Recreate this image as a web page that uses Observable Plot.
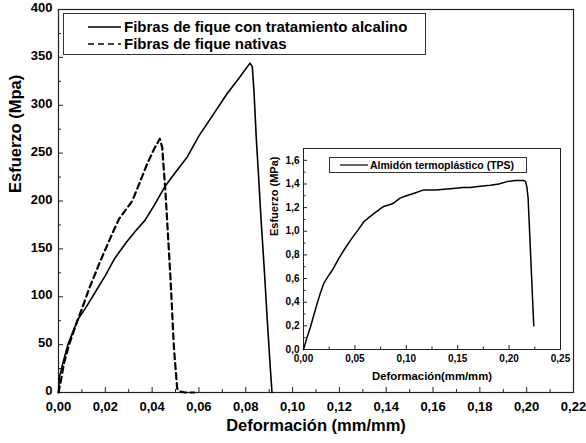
<!DOCTYPE html>
<html>
<head>
<meta charset="utf-8">
<script src="https://cdn.jsdelivr.net/npm/d3@7"></script>
<script src="https://cdn.jsdelivr.net/npm/@observablehq/plot@0.6"></script>
<style>
  html, body { margin: 0; padding: 0; background: #fff; }
  #wrap { position: relative; width: 586px; height: 443px; font-family: "Liberation Sans", Arial, sans-serif; font-weight: bold; color: #000; }
  #wrap svg { display: block; }
  #inset { position: absolute; left: 255px; top: 140px; }
  .legend { position: absolute; border: 1px solid #333; background: #fff; box-sizing: border-box; }
  .row { position: absolute; white-space: nowrap; display: flex; align-items: center; }
</style>
</head>
<body>
<div id="wrap"></div>
<script>
// ---- Data ----
const treatedX = [0, 0.0003, 0.002, 0.004, 0.008, 0.012, 0.016, 0.020, 0.024, 0.029, 0.033, 0.037, 0.041, 0.0457, 0.050, 0.055, 0.060, 0.066, 0.072, 0.077, 0.0818, 0.0828, 0.0835, 0.0845, 0.0855, 0.0865, 0.0880, 0.0892, 0.0905, 0.0912];
const treatedY = [0, 15, 32, 50, 75, 90, 106, 122, 140, 157, 169, 180, 196, 216, 230, 246, 268, 290, 312, 328, 344, 340, 315, 265, 225, 182, 125, 75, 25, 0];

const nativeX = [0, 0.001, 0.0023, 0.0044, 0.0065, 0.0087, 0.011, 0.013, 0.0155, 0.018, 0.0205, 0.023, 0.0258, 0.0285, 0.0315, 0.0345, 0.0379, 0.041, 0.0433, 0.0443, 0.0457, 0.0464, 0.0479, 0.0493, 0.0507, 0.052, 0.054, 0.058];
const nativeY = [0, 12, 30, 49, 64, 79, 94, 108, 123, 138, 152, 166, 181, 190, 200, 218, 239, 255, 265, 256, 209, 180, 117, 47, 4, 1, 0, 0];

const tpsX = [0, 0.003, 0.0068, 0.010, 0.0133, 0.0165, 0.0198, 0.024, 0.028, 0.0344, 0.040, 0.047, 0.053, 0.0587, 0.064, 0.070, 0.078, 0.086, 0.094, 0.100, 0.107, 0.117, 0.128, 0.143, 0.155, 0.162, 0.172, 0.182, 0.190, 0.198, 0.206, 0.214, 0.216, 0.2172, 0.2185, 0.224];
const tpsY = [0, 0.09, 0.19, 0.29, 0.39, 0.48, 0.56, 0.62, 0.67, 0.77, 0.85, 0.94, 1.01, 1.08, 1.12, 1.16, 1.21, 1.23, 1.28, 1.30, 1.32, 1.35, 1.35, 1.36, 1.37, 1.37, 1.38, 1.39, 1.40, 1.42, 1.43, 1.43, 1.42, 1.38, 1.28, 0.20];

const mainXTicks = [0, 0.02, 0.04, 0.06, 0.08, 0.10, 0.12, 0.14, 0.16, 0.18, 0.20, 0.22];
const mainXMinor = [0.01, 0.03, 0.05, 0.07, 0.09, 0.11, 0.13, 0.15, 0.17, 0.19, 0.21];
const mainYTicks = [0, 50, 100, 150, 200, 250, 300, 350, 400];
const mainYMinor = [25, 75, 125, 175, 225, 275, 325, 375];
const insetXTicks = [0, 0.05, 0.10, 0.15, 0.20, 0.25];
const insetXMinor = [0.025, 0.075, 0.125, 0.175, 0.225];
const insetYTicks = [0, 0.2, 0.4, 0.6, 0.8, 1.0, 1.2, 1.4, 1.6];
const insetYMinor = [0.1, 0.3, 0.5, 0.7, 0.9, 1.1, 1.3, 1.5];

const seriesNames = ["Fibras de fique con tratamiento alcalino", "Fibras de fique nativas"];
const insetName = "Almidón termoplástico (TPS)";
const mainXLabel = "Deformación (mm/mm)";
const mainYLabel = "Esfuerzo (Mpa)";
const insetXLabel = "Deformación(mm/mm)";
const insetYLabel = "Esfuerzo (MPa)";

// ---- Build ----
const treated = treatedX.map((x, i) => ({x, y: treatedY[i]}));
const native = nativeX.map((x, i) => ({x, y: nativeY[i]}));
const tps = tpsX.map((x, i) => ({x, y: tpsY[i]}));

const fmt2 = d => d.toFixed(2).replace(".", ",");
const fmt1 = d => d.toFixed(1).replace(".", ",");
const fontFamily = '"Liberation Sans", Arial, sans-serif';

const main = Plot.plot({
  width: 586, height: 443,
  marginLeft: 58, marginRight: 13, marginTop: 9, marginBottom: 51,
  x: {domain: [0, 0.22]},
  y: {domain: [0, 400]},
  style: {fontFamily, fontWeight: "bold", fontSize: "13px", color: "#000", background: "transparent", overflow: "visible"},
  marks: [
    Plot.frame({stroke: "#222", strokeWidth: 1.2}),
    Plot.axisX({ticks: mainXTicks, tickSize: -5, tickPadding: 14, tickFormat: fmt2, label: null, fontSize: 13, stroke: "#222"}),
    Plot.axisX({ticks: mainXMinor, tickSize: -3, tickFormat: () => "", label: null, stroke: "#222"}),
    Plot.axisY({ticks: mainYTicks, tickSize: -5, tickFormat: () => "", label: null, stroke: "#222"}),
    Plot.axisY({ticks: mainYTicks, tickSize: 0, tickPadding: 6, dy: -1.5, tickFormat: d => String(d), label: null, fontSize: 13}),
    Plot.axisY({ticks: mainYMinor, tickSize: -3, tickFormat: () => "", label: null, stroke: "#222"}),
    Plot.line(treated, {x: "x", y: "y", stroke: "#000", strokeWidth: 1.6}),
    Plot.line(native, {x: "x", y: "y", stroke: "#000", strokeWidth: 2.2, strokeDasharray: "6,4"}),
    Plot.text([mainXLabel], {frameAnchor: "bottom", dy: 38, fontSize: 16.5, fill: "#000"}),
    Plot.text([mainYLabel], {frameAnchor: "left", dx: -43, dy: -8, rotate: -90, fontSize: 16.5, fill: "#000"})
  ]
});

const inset = Plot.plot({
  width: 320, height: 250,
  marginLeft: 48, marginRight: 15, marginTop: 8, marginBottom: 41,
  x: {domain: [0, 0.25]},
  y: {domain: [0, 1.7]},
  style: {fontFamily, fontWeight: "bold", fontSize: "10px", color: "#000", background: "transparent", overflow: "visible"},
  marks: [
    Plot.frame({stroke: "#222", strokeWidth: 1}),
    Plot.axisX({ticks: insetXTicks, tickSize: -4, tickPadding: 9, tickFormat: fmt2, label: null, fontSize: 10, stroke: "#222"}),
    Plot.axisX({ticks: insetXMinor, tickSize: -2.5, tickFormat: () => "", label: null, stroke: "#222"}),
    Plot.axisY({ticks: insetYTicks, tickSize: -4, tickPadding: 8, tickFormat: fmt1, label: null, fontSize: 10, stroke: "#222"}),
    Plot.axisY({ticks: insetYMinor, tickSize: -2.5, tickFormat: () => "", label: null, stroke: "#222"}),
    Plot.line(tps, {x: "x", y: "y", stroke: "#000", strokeWidth: 1.5}),
    Plot.text([insetXLabel], {frameAnchor: "bottom", dy: 30, fontSize: 11.3, fill: "#000"}),
    Plot.text([insetYLabel], {frameAnchor: "left", dx: -29, dy: -13, rotate: -90, fontSize: 11, fill: "#000"})
  ]
});
inset.id = "inset";

const wrap = document.getElementById("wrap");
wrap.appendChild(main);
wrap.appendChild(inset);

// ---- Legends ----
function lineSample(w, dash, sw) {
  return `<svg width="${w}" height="8" style="display:block"><line x1="0" y1="4" x2="${w}" y2="4" stroke="#000" stroke-width="${sw}" ${dash ? `stroke-dasharray="${dash}"` : ""}/></svg>`;
}
const leg = document.createElement("div");
leg.className = "legend";
Object.assign(leg.style, {left: "63px", top: "13px", width: "363px", height: "42px"});
leg.innerHTML =
  `<div class="row" style="left:24px;top:4px;font-size:15px;line-height:17px;">${lineSample(33, null, 1.6)}<span style="margin-left:3px">${seriesNames[0]}</span></div>` +
  `<div class="row" style="left:24px;top:21px;font-size:15px;line-height:17px;">${lineSample(33, "6,4", 1.6)}<span style="margin-left:3px">${seriesNames[1]}</span></div>`;
wrap.appendChild(leg);

const leg2 = document.createElement("div");
leg2.className = "legend";
Object.assign(leg2.style, {left: "329px", top: "157px", width: "198px", height: "16px"});
leg2.innerHTML = `<div class="row" style="left:10px;top:1px;font-size:10.5px;line-height:12px;">${lineSample(28, null, 1.2)}<span style="margin-left:2px">${insetName}</span></div>`;
wrap.appendChild(leg2);
</script>
</body>
</html>
